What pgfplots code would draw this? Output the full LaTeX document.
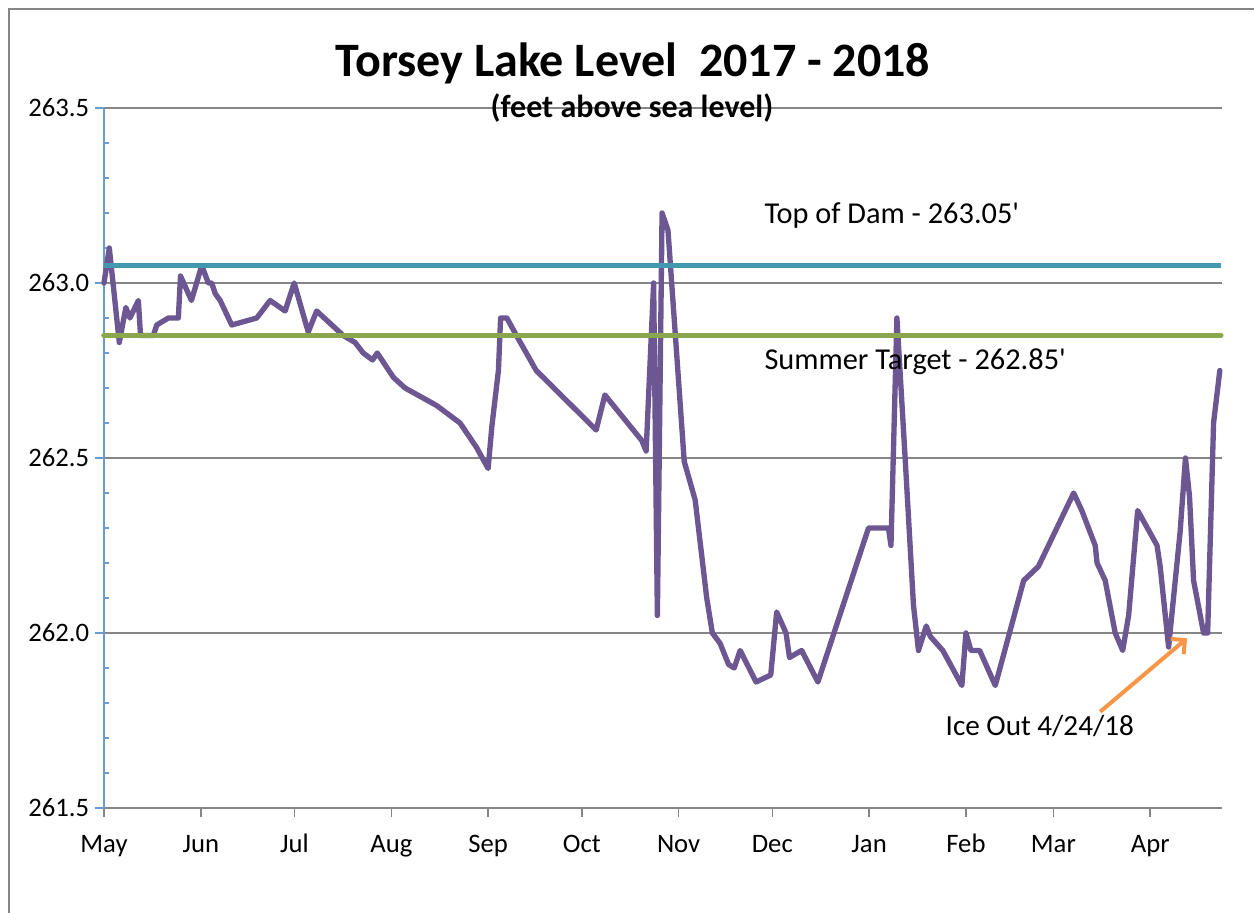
\documentclass[border=0pt]{standalone}
\usepackage{fontspec}
\setmainfont{Carlito}
\usepackage{pgfplots}
\pgfplotsset{compat=1.18}
\usetikzlibrary{arrows.meta}
\definecolor{lakepurple}{HTML}{6C5792}
\definecolor{damteal}{HTML}{4198AF}
\definecolor{targetgreen}{HTML}{8AA74D}
\definecolor{iceorange}{HTML}{F79646}
\definecolor{gridgray}{HTML}{868686}
\definecolor{axisblue}{HTML}{6A9AD0}
\begin{document}
\begin{tikzpicture}
\begin{axis}[
  scale only axis, width=670.8pt, height=420pt,
  xmin=0, xmax=358, ymin=261.5, ymax=263.5,
  axis lines=left, axis line style={-},
  x axis line style={draw=gridgray, line width=0.9pt},
  y axis line style={draw=axisblue, line width=1.2pt},
  xtick={0,31,61,92,123,153,184,214,245,276,304,335},
  xticklabels={May,Jun,Jul,Aug,Sep,Oct,Nov,Dec,Jan,Feb,Mar,Apr},
  ytick={261.5,262,262.5,263,263.5},
  yticklabels={261.5,262.0,262.5,263.0,263.5},
  minor ytick={261.6,261.7,261.8,261.9,262.1,262.2,262.3,262.4,262.6,262.7,262.8,262.9,263.1,263.2,263.3,263.4},
  ymajorgrids, grid style={draw=gridgray, line width=0.9pt},
  tick align=outside, major tick length=5.4pt, minor tick length=3pt,
  xtick style={draw=gridgray, line width=0.9pt},
  ytick style={draw=axisblue, line width=1pt},
  minor tick style={draw=axisblue, line width=1pt, xshift=3pt},
  ticklabel style={font=\fontsize{16}{19}\selectfont},
  xticklabel style={text height=11.5pt, text depth=3.5pt, yshift=-6pt},
  clip=false,
]
\addplot[lakepurple, line width=3.2pt, line join=round, line cap=round] coordinates {
(0,263.00) (1.7,263.10) (4.9,262.83) (7,262.93) (8.3,262.90) (11,262.95)
(11.7,262.85) (15.8,262.85) (16.9,262.88) (20.6,262.90) (23.8,262.90)
(24.5,263.02) (28,262.95) (31.3,263.05) (33.4,263.00) (34.5,263.00)
(35.6,262.97) (37.2,262.95) (40.9,262.88) (48.9,262.90) (53.2,262.95)
(58,262.92) (60.9,263.00) (65.4,262.86) (68.1,262.92) (76.6,262.85)
(80.4,262.83) (83,262.80) (86,262.78) (87.5,262.80) (92.7,262.73)
(96.4,262.70) (106.5,262.65) (114,262.60) (119.3,262.53) (123,262.47)
(124.2,262.59) (126.3,262.75) (127,262.90) (129,262.90) (132.7,262.84)
(138.4,262.75) (157.6,262.58) (160.4,262.68) (172.2,262.55) (173.6,262.52)
(174.7,262.74) (176,263.00) (177.2,262.05) (178.7,263.20) (180.6,263.15)
(185.8,262.49) (189.3,262.38) (193,262.10) (194.8,262.00) (197.3,261.97)
(200,261.91) (201.8,261.90) (203.7,261.95) (208.8,261.86) (213.5,261.88)
(215.4,262.06) (218.4,262.00) (219.5,261.93) (223.4,261.95) (228.6,261.86)
(244.8,262.30) (251.2,262.30) (252,262.25) (253.9,262.90) (256.6,262.49)
(259.2,262.08) (260.8,261.95) (263.3,262.02) (264.6,261.99) (268.6,261.95)
(274.7,261.85) (276,262.00) (277.6,261.95) (280.4,261.95) (285.4,261.85)
(294.5,262.15) (299.2,262.19) (310.5,262.40) (313.1,262.35) (317.4,262.25)
(318,262.20) (320.6,262.15) (323.8,262.00) (326.2,261.95) (328.1,262.05)
(331,262.35) (337.2,262.25) (338.2,262.19) (340.9,261.96) (344.6,262.29)
(346.3,262.50) (347.6,262.39) (348.9,262.15) (352.1,262.00) (353.4,262.00)
(355.3,262.60) (357.3,262.75)
};
\addplot[targetgreen, line width=3.4pt, line cap=round] coordinates {(0,262.85) (357.6,262.85)};
\addplot[damteal, line width=3.4pt] coordinates {(0,263.05) (357.6,263.05)};
\node[anchor=west, inner sep=0pt, font=\fontsize{18.2}{21}\selectfont] at (axis cs:211.4,263.194) {Top of Dam - 263.05\textquotesingle};
\node[anchor=west, inner sep=0pt, font=\fontsize{18.2}{21}\selectfont] at (axis cs:211.4,262.774) {Summer Target - 262.85\textquotesingle};
\node[anchor=west, inner sep=0pt, font=\fontsize{17.5}{21}\selectfont] at (axis cs:269.4,261.734) {Ice Out 4/24/18};
\draw[iceorange, line width=2.4pt, -{Straight Barb[length=6pt,width=12pt]}] (axis cs:319.0,261.775) -- (axis cs:346.8,261.985);
\end{axis}
\node[font=\fontsize{28.8}{34}\bfseries\selectfont] at (317.4pt,446.6pt) {Torsey Lake Level\ \ 2017 - 2018};
\node[font=\fontsize{19.2}{22}\bfseries\selectfont] at (316.8pt,420pt) {(feet above sea level)};
\draw[gridgray, line width=1.2pt] (-57pt,-63pt) -- (-57pt,479.4pt) -- (690pt,479.4pt);
\pgfresetboundingbox
\path (-62.4pt,-63pt) rectangle (690pt,484.8pt);
\end{tikzpicture}
\end{document}
